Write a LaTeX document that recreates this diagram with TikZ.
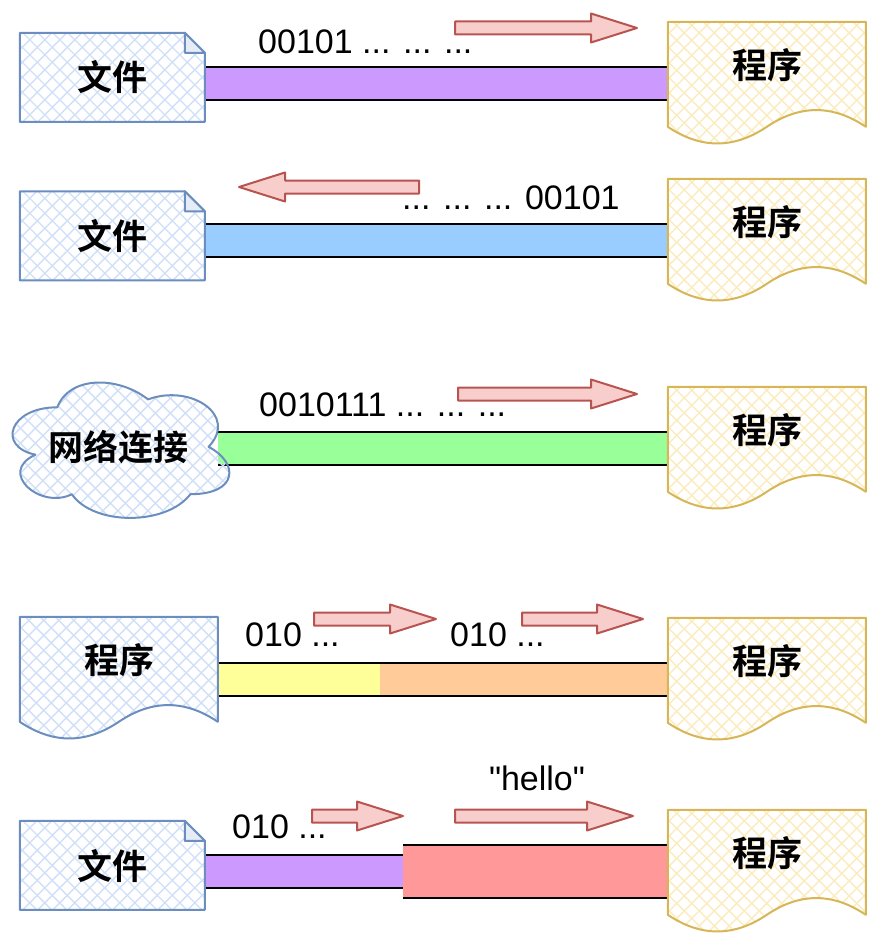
\documentclass[tikz,border=0pt]{standalone}
\usepackage{fontspec}
\setmainfont{Liberation Sans}[Ligatures=TeXOff]
\newfontfamily\cjk{Noto Sans CJK SC}[BoldFont={Noto Sans CJK SC Bold}]
\usetikzlibrary{calc,backgrounds}

\definecolor{bline}{HTML}{6C8EBF}
\definecolor{bhatch}{HTML}{CFE0F8}
\definecolor{bfold}{HTML}{E6EDF7}
\definecolor{yline}{HTML}{D6B656}
\definecolor{yhatch}{HTML}{FCEBBE}
\definecolor{arrline}{HTML}{B85450}
\definecolor{arrfill}{HTML}{F8CECC}
\definecolor{barviolet}{HTML}{CC99FF}
\definecolor{barblue}{HTML}{99CCFF}
\definecolor{bargreen}{HTML}{99FF99}
\definecolor{baryellow}{HTML}{FFFF99}
\definecolor{barorange}{HTML}{FFCC99}
\definecolor{barred}{HTML}{FF9999}

% tail x, tip x, y
\newcommand{\flowarrow}[3]{%
  \pgfmathsetmacro{\hx}{#2-46*sign(#2-#1)}
  \draw[flow] (#1,#3-6.5) -- (\hx,#3-6.5) -- (\hx,#3-14.5) -- (#2,#3)
    -- (\hx,#3+14.5) -- (\hx,#3+6.5) -- (#1,#3+6.5) -- cycle;}

\begin{document}
\begin{tikzpicture}[x=1pt, y=-1pt,
    sketchfill/.style={path picture={
      \foreach \k in {-24,...,24} {
        \draw[#1, line width=1.4pt] ([shift={(\k*15-160,-160)}]path picture bounding box.center) -- ++(320,320);
        \draw[#1, line width=1.4pt] ([shift={(\k*15+160,-160)}]path picture bounding box.center) -- ++(-320,320);
      }}},
    cjkfont/.style={font=\cjk\bfseries\fontsize{35pt}{40pt}\selectfont},
    filebox/.style={cjkfont, minimum width=185pt, minimum height=89pt, inner sep=0pt},
    progbox/.style={cjkfont, minimum width=198pt, minimum height=123.5pt, inner sep=0pt, text height=31pt, text depth=42pt},
    cloudbox/.style={cjkfont, minimum width=242pt, minimum height=158pt, inner sep=0pt},
    bluepath/.style={draw=bline, line width=2pt, line join=round, sketchfill=bhatch},
    yellowpath/.style={draw=yline, line width=2pt, line join=round, sketchfill=yhatch},
    bar/.style={draw=black, line width=2pt, double=#1, double distance=31pt},
    lbl/.style={inner sep=0pt, anchor=west, font=\fontsize{34pt}{40pt}\selectfont},
    flow/.style={draw=arrline, fill=arrfill, line width=2pt, line join=round}
]
\useasboundingbox (0,0) rectangle (890,950);

\node[filebox] (f1) at (112.5,77.5) {文件};
\node[filebox] (f2) at (112.5,236) {文件};
\node[cloudbox] (net) at (118,447) {网络连接};
\node[progbox] (p4l) at (119,678.75) {程序};
\node[filebox] (f5) at (112.5,865.5) {文件};

\node[progbox] (p1) at (767,83.75) {程序};
\node[progbox] (p2) at (767,240.75) {程序};
\node[progbox] (p3) at (767,448.75) {程序};
\node[progbox] (p4) at (767,679.75) {程序};
\node[progbox] (p5) at (767,871.75) {程序};

\coordinate (m4) at (380,0);
\coordinate (m5) at (403,0);

\begin{scope}[on background layer]
\draw[bar=barviolet] (f1.east |- p1.west) -- (p1.west);
\draw[bar=barblue] (f2.east |- p2.west) -- (p2.west);
\draw[bar=bargreen] ($(net.east |- p3.west)+(-21,0)$) -- (p3.west);
\draw[bar=baryellow] (p4l.east |- p4.west) -- (m4 |- p4.west);
\draw[bar=barorange] (m4 |- p4.west) -- (p4.west);
\draw[bar=barviolet] (f5.east |- p5.west) -- (m5 |- p5.west);
\draw[bar=barred, double distance=51pt] (m5 |- p5.west) -- (p5.west);

\foreach \n in {f1,f2,f5} {
  \draw[bluepath, shift={(\n.north west)}] (0,0) -- (165,0) -- (185,20) -- (185,89) -- (0,89) -- cycle;
  \draw[draw=bline, line width=2pt, line join=round, fill=bfold, shift={(\n.north west)}] (165,0) -- (165,20) -- (185,20) -- cycle;
}
\foreach \n/\s in {p1/yellowpath,p2/yellowpath,p3/yellowpath,p4/yellowpath,p5/yellowpath,p4l/bluepath}
  \draw[\s, shift={(\n.north west)}] (0,0) -- (198,0) -- (198,105)
    .. controls (165,82.7) and (132,82.7) .. (99,105)
    .. controls (66,127.2) and (33,127.2) .. (0,105) -- cycle;

\draw[bluepath, shift={(net.north west)}] (60.5,39.5)
  .. controls (12.1,39.5) and (0,79) .. (38.7,86.9)
  .. controls (0,104.3) and (43.6,142.2) .. (75,126.4)
  .. controls (96.8,158) and (169.4,158) .. (193.6,126.4)
  .. controls (242,126.4) and (242,94.8) .. (211.75,79)
  .. controls (242,47.4) and (193.6,15.8) .. (151.25,31.6)
  .. controls (121,7.9) and (72.6,7.9) .. (60.5,39.5) -- cycle;
\end{scope}

\node[lbl] (t1) at (258,42) {00101 ... ... ...};
\node[lbl] (t2) at (402,198) {... ... ... 00101};
\node[lbl] (t3) at (259,405) {0010111 ... ... ...};
\node[lbl] (t4a) at (245,635) {010 ...};
\node[lbl] (t4b) at (450,635) {010 ...};
\node[lbl] (t5a) at (232,827) {010 ...};
\node[lbl, anchor=center] (t5b) at (537,778) {"hello"};

\flowarrow{455}{637}{28}
\flowarrow{419}{239}{187}
\flowarrow{458}{637}{394}
\flowarrow{314}{436}{619}
\flowarrow{522}{643}{619}
\flowarrow{312}{403}{816}
\flowarrow{455}{633}{816}
\end{tikzpicture}
\end{document}
